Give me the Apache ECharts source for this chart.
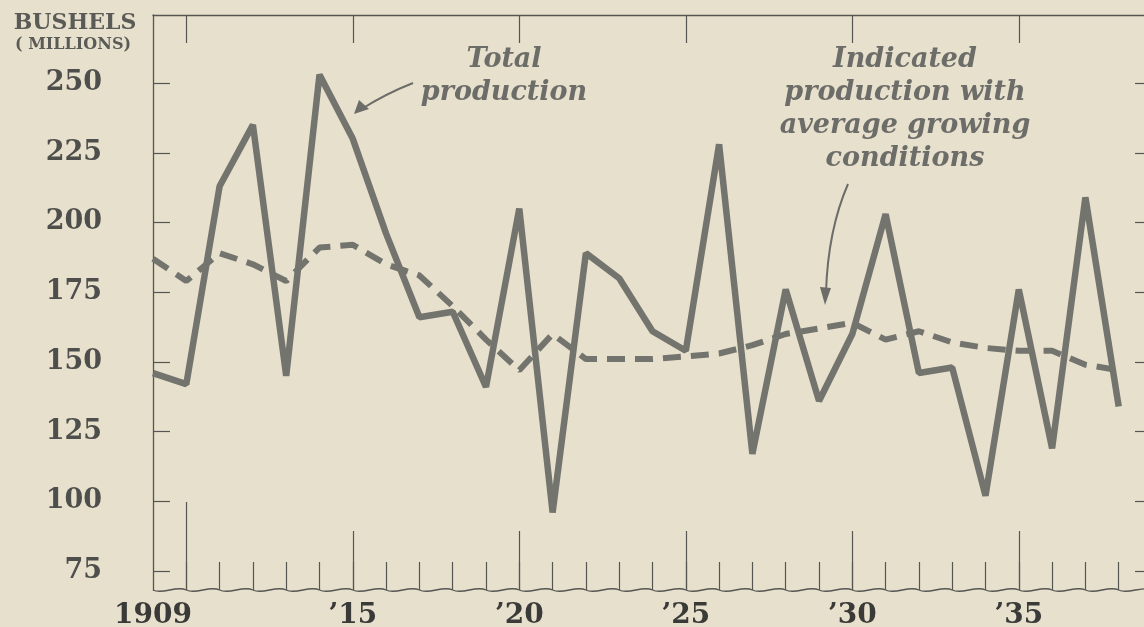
<!DOCTYPE html>
<html><head><meta charset="utf-8">
<script src="https://cdn.jsdelivr.net/npm/echarts@6/dist/echarts.min.js"></script>
<style>html,body{margin:0;padding:0;background:#e7e0cc;}#c{width:1144px;height:627px;}</style>
</head><body><div id="c"></div>
<script>
const years = [1909,1910,1911,1912,1913,1914,1915,1916,1917,1918,1919,1920,1921,1922,1923,1924,1925,1926,1927,1928,1929,1930,1931,1932,1933,1934,1935,1936,1937,1938];
const totalProduction = [146,142,213,235,145,253,230,196,166,168,141,205,96,189,180,161,154,228,117,176,136,160,203,146,148,102,176,119,209,134];
const indicatedProduction = [187,179,189,185,179,191,192,185,181,170,158,147,160,151,151,151,152,153,156,160,162,164,158,161,157,155,154,154,149,147];
const yTickValues = [75,100,125,150,175,200,225,250];
const xLabelYears = [1909,1915,1920,1925,1930,1935];
const xLabelText = ['1909','\u201915','\u201920','\u201925','\u201930','\u201935'];
const xMajorTicks = [1915,1920,1925,1930,1935];
const xFirstTick = [1910];
const xTopTicks = [1910,1915,1920,1925,1930,1935];
const xMinorTicks = years.slice(1);

const X_MIN = 1909, X_MAX = 1939, Y_MIN = 68.2, Y_MAX = 274.4;
const INK = '#555552';
const LINE = '#74746f';
const FONT = '"DejaVu Serif", serif';

const chart = echarts.init(document.getElementById('c'), null, {renderer: 'canvas'});

function tickAxis(pos, vals, len, extra) {
  return Object.assign({
    type: 'value', position: pos, min: X_MIN, max: X_MAX, gridIndex: 0,
    axisLine: {show: false}, splitLine: {show: false},
    axisLabel: {show: false},
    axisTick: {show: true, inside: true, length: len, customValues: vals, lineStyle: {color: INK, width: 1.2}}
  }, extra || {});
}

const option = {
  backgroundColor: '#e7e0cc',
  animation: false,
  grid: {left: 153, top: 15, width: 999, bottom: 37, containLabel: false, outerBoundsMode: 'none'},
  xAxis: [
    {
      type: 'value', position: 'bottom', min: X_MIN, max: X_MAX,
      axisLine: {show: false}, splitLine: {show: false},
      axisTick: {show: false},
      axisLabel: {
        show: true, customValues: xLabelYears, margin: 12,
        formatter: v => xLabelText[xLabelYears.indexOf(v)],
        fontFamily: FONT, fontWeight: 'bold', fontSize: 28, color: '#3a3a38'
      }
    },
    tickAxis('bottom', xMinorTicks, 28),
    tickAxis('bottom', xMajorTicks, 59),
    tickAxis('bottom', xFirstTick, 88),
    tickAxis('top', xTopTicks, 28, {axisLine: {show: true, lineStyle: {color: INK, width: 1.3}}})
  ],
  yAxis: [
    {
      type: 'value', position: 'left', min: Y_MIN, max: Y_MAX,
      axisLine: {show: true, lineStyle: {color: INK, width: 1.3}},
      splitLine: {show: false},
      axisTick: {show: true, inside: true, length: 17, customValues: yTickValues, lineStyle: {color: INK, width: 1.2}},
      axisLabel: {show: true, customValues: yTickValues, margin: 51, fontFamily: FONT, fontWeight: 'bold', fontSize: 27, color: '#4e4e4c'}
    },
    {
      type: 'value', position: 'right', min: Y_MIN, max: Y_MAX,
      axisLine: {show: false}, splitLine: {show: false},
      axisTick: {show: true, inside: true, length: 17, customValues: yTickValues, lineStyle: {color: INK, width: 1.2}},
      axisLabel: {show: false}
    }
  ],
  series: [
    {
      name: 'Indicated production with average growing conditions',
      type: 'line', xAxisIndex: 0, yAxisIndex: 0,
      data: years.map((y, i) => [y, indicatedProduction[i]]),
      showSymbol: false, symbol: 'none', silent: true,
      lineStyle: {color: LINE, width: 6, type: [18, 10], cap: 'butt', join: 'bevel'},
      z: 3
    },
    {
      name: 'Total production',
      type: 'line', xAxisIndex: 0, yAxisIndex: 0,
      data: years.map((y, i) => [y, totalProduction[i]]),
      showSymbol: false, symbol: 'none', silent: true,
      lineStyle: {color: LINE, width: 6.5, join: 'bevel'},
      z: 4
    },
    {
      name: 'baseline',
      type: 'custom', xAxisIndex: 0, yAxisIndex: 0, silent: true, clip: false,
      data: years.map(y => [y]),
      renderItem: function (params, api) {
        const y0 = api.value(0);
        const p0 = api.coord([y0, Y_MIN]);
        const p1 = api.coord([y0 + 1, Y_MIN]);
        const w = p1[0] - p0[0];
        return {
          type: 'bezierCurve',
          shape: {x1: p0[0], y1: p0[1], cpx1: p0[0] + w * 0.3, cpy1: p0[1] + 5, cpx2: p0[0] + w * 0.7, cpy2: p0[1] - 5, x2: p1[0], y2: p1[1]},
          style: {stroke: INK, lineWidth: 1.3, fill: null}
        };
      },
      z: 2
    }
  ],
  graphic: [
    {type: 'text', x: 75, y: 12, style: {text: 'BUSHELS', align: 'center', verticalAlign: 'top', fontFamily: FONT, fontWeight: 'bold', fontSize: 22, fill: '#5a5a57'}},
    {type: 'text', x: 73, y: 37, style: {text: '( MILLIONS)', align: 'center', verticalAlign: 'top', fontFamily: FONT, fontWeight: 'bold', fontSize: 16, fill: '#5a5a57'}},
    {type: 'text', x: 504, y: 43, style: {text: 'Total\nproduction', align: 'center', verticalAlign: 'top', lineHeight: 33, fontFamily: FONT, fontWeight: 'bold', fontStyle: 'italic', fontSize: 27, fill: '#6c6c69'}},
    {type: 'text', x: 905, y: 43, style: {text: 'Indicated\nproduction with\naverage growing\nconditions', align: 'center', verticalAlign: 'top', lineHeight: 33, fontFamily: FONT, fontWeight: 'bold', fontStyle: 'italic', fontSize: 27, fill: '#6c6c69'}},
    {type: 'bezierCurve', shape: {x1: 413, y1: 83, cpx1: 385, cpy1: 94, x2: 360, y2: 110}, style: {stroke: '#6c6c69', lineWidth: 2, fill: null}},
    {type: 'polygon', shape: {points: [[354,114],[359,100],[369,109]]}, style: {fill: '#6c6c69'}},
    {type: 'bezierCurve', shape: {x1: 848, y1: 184, cpx1: 828, cpy1: 230, x2: 826, y2: 292}, style: {stroke: '#6c6c69', lineWidth: 2, fill: null}},
    {type: 'polygon', shape: {points: [[825,305],[820,287],[831,288]]}, style: {fill: '#6c6c69'}}
  ]
};
chart.setOption(option);
</script>
</body></html>
